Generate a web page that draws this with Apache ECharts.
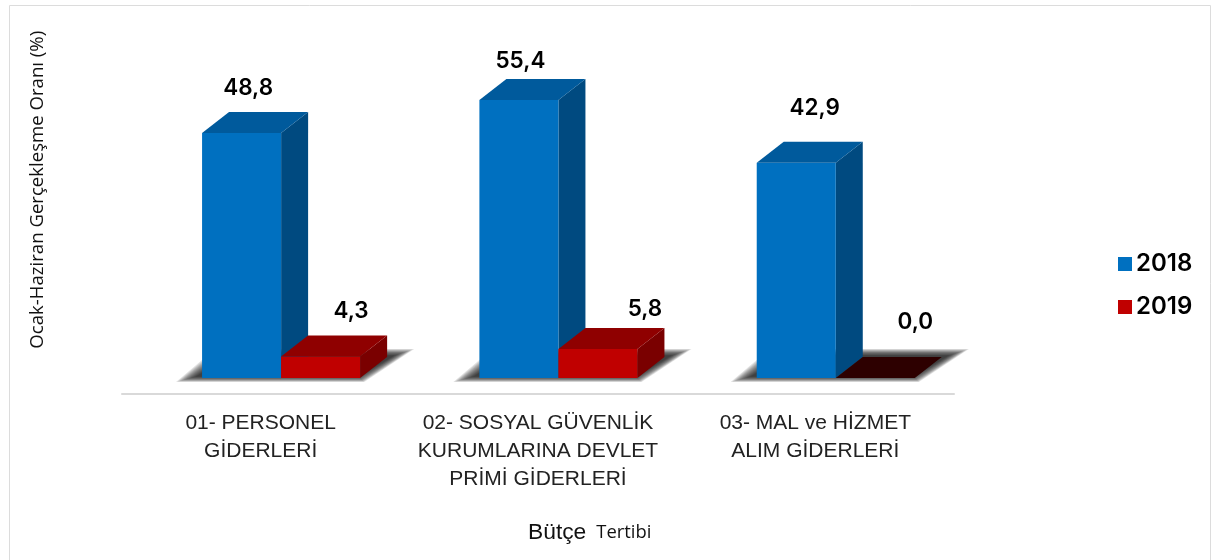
<!DOCTYPE html>
<html><head><meta charset="utf-8">
<style>html,body{margin:0;padding:0;background:#fff}#c{width:1219px;height:560px}</style>
<script src="https://cdn.jsdelivr.net/npm/echarts@6/dist/echarts.min.js"></script>
</head><body><div id="c"></div>
<script>
const categories = ["01- PERSONEL\nGİDERLERİ", "02- SOSYAL GÜVENLİK\nKURUMLARINA DEVLET\nPRİMİ GİDERLERİ", "03- MAL ve HİZMET\nALIM GİDERLERİ"];
const values2018 = [48.8, 55.4, 42.9];
const values2019 = [4.3, 5.8, 0.0];
const seriesNames = ["2018", "2019"];

// styling only: hand-placed label nudges [dx from bar centre, dy above top]
const nudge2018 = [[6.5, 24], [1.5, 18], [18.5, 33]];
const nudge2019 = [[30.5, 24], [47, 19], [40, 35]];
const DX = 27, DY = 21, BAR_FRAC = 0.285;
const fmt = v => v.toFixed(1).replace('.', ',');
const LABEL_FONT = '600 22.5px Inter, "Liberation Sans", sans-serif';

function makeRender(which, nudges, colors) {
  return function (params, api) {
    const i = api.value(0), v = api.value(1);
    const base = api.coord([i, 0]), top = api.coord([i, v]);
    const band = api.size([1, 0])[0];
    const w = band * BAR_FRAC;
    const x0 = base[0] + (which === 0 ? -58.6 : 20.4);
    const x1 = x0 + w, yb = base[1], yt = top[1];
    const kids = [];
    if (which === 0) {
      for (let k = 0; k < 12; k++) {
        const e = k * 1.4;
        kids.push({ type: 'polygon', silent: true,
          shape: { points: [
            [x0 - 26 + e * 1.3, yb + 4 - k * 0.5],
            [x0 + 13 + e, yb - 29 + k * 0.6],
            [x0 + 2 * w + 54 - e * 1.3, yb - 29 + k * 0.6],
            [x0 + 2 * w + 4 - e * 0.4, yb + 4 - k * 0.5]
          ] },
          style: { fill: 'rgba(25,25,25,0.13)' } });
      }
    }
    const zero = v === 0;
    if (!zero) {
      kids.push({ type: 'polygon', shape: { points: [[x1, yt], [x1 + DX, yt - DY], [x1 + DX, yb - DY], [x1, yb]] }, style: { fill: colors.side } });
      kids.push({ type: 'rect', shape: { x: x0, y: yt, width: w, height: yb - yt }, style: { fill: colors.front } });
    }
    kids.push({ type: 'polygon', shape: { points: [[x0, yt], [x0 + DX, yt - DY], [x1 + DX, yt - DY], [x1, yt]] }, style: { fill: zero ? colors.zero : colors.top } });
    const n = nudges[i];
    kids.push({ type: 'text', style: { text: fmt(v), x: x0 + w / 2 + n[0], y: yt - DY - n[1], align: 'center', verticalAlign: 'middle', font: LABEL_FONT, fill: '#000' } });
    return { type: 'group', children: kids };
  };
}

const chart = echarts.init(document.getElementById('c'), null, { renderer: 'canvas' });
chart.setOption({
  animation: false,
  backgroundColor: '#fff',
  grid: { left: 122, width: 832, top: 1.5, height: 376.5 },
  title: {
    left: 528, top: 521, padding: 0,
    text: '{a|Bütçe}  {b|Tertibi}',
    textStyle: { fontWeight: 'normal', rich: {
      a: { fontFamily: '"Liberation Sans"', fontWeight: 'normal', fontSize: 22.8, color: '#111' },
      b: { fontFamily: '"Open Sans"', fontWeight: 'normal', fontSize: 18.4, color: '#111' }
    } }
  },
  legend: {
    data: seriesNames, orient: 'vertical', left: 1118, top: 252, padding: 0, itemWidth: 14, itemHeight: 14, itemGap: 19,
    icon: 'rect', selectedMode: false,
    textStyle: { fontFamily: 'Inter', fontWeight: 600, fontSize: 24, color: '#000', padding: [0, 0, 0, -1] }
  },
  xAxis: {
    type: 'category', data: categories, offset: 16,
    axisLine: { show: true, onZero: false, lineStyle: { color: '#d9d9d9', width: 2 } },
    axisTick: { show: false },
    axisLabel: { margin: 15, interval: 0, lineHeight: 28, fontFamily: '"Liberation Sans"', fontSize: 21, color: '#222' }
  },
  yAxis: {
    type: 'value', min: 0, max: 75, splitLine: { show: false }, axisLine: { show: false }, axisTick: { show: false }, axisLabel: { show: false },
    name: 'Ocak-Haziran Gerçekleşme Oranı (%)', nameLocation: 'middle', nameGap: 75, nameRotate: 90,
    nameTextStyle: { fontFamily: '"Open Sans"', fontSize: 18.6, color: '#111' }
  },
  graphic: [{ type: 'rect', silent: true, z: -1, shape: { x: 9.5, y: 5.5, width: 1201, height: 570 }, style: { fill: 'none', stroke: '#dcdcdc', lineWidth: 1 } }],
  series: [
    { name: seriesNames[0], type: 'custom', clip: false, silent: true, itemStyle: { color: '#0070c0' },
      encode: { x: 0, y: 1 }, data: values2018.map((v, i) => [i, v]),
      renderItem: makeRender(0, nudge2018, { front: '#0070c0', side: '#004a80', top: '#005a9c', zero: '#002030' }) },
    { name: seriesNames[1], type: 'custom', clip: false, silent: true, itemStyle: { color: '#c00000' },
      encode: { x: 0, y: 1 }, data: values2019.map((v, i) => [i, v]),
      renderItem: makeRender(1, nudge2019, { front: '#c00000', side: '#7a0000', top: '#8f0000', zero: '#2d0000' }) }
  ]
});
</script></body></html>
